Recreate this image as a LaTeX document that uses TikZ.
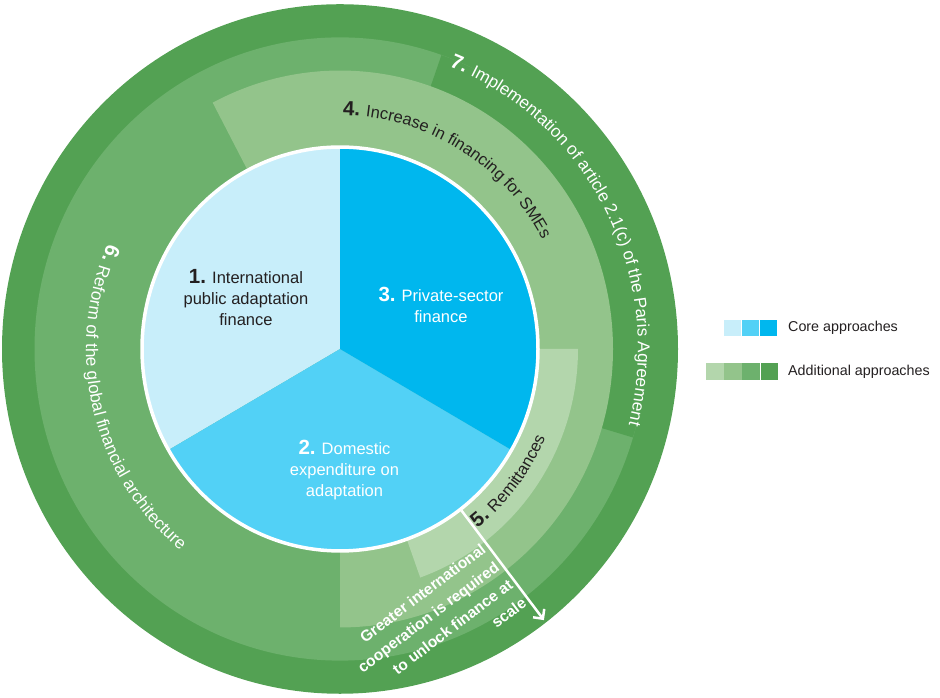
\documentclass[tikz,border=0pt]{standalone}
\usepackage{fontspec}
\setmainfont{Liberation Sans}
\usetikzlibrary{decorations.text,arrows.meta}
\definecolor{gdark}{HTML}{53A153}
\definecolor{gmid}{HTML}{6DB16D}
\definecolor{glight}{HTML}{93C48B}
\definecolor{gpale}{HTML}{B3D6AC}
\definecolor{bpale}{HTML}{C8EEFA}
\definecolor{bmid}{HTML}{52D1F6}
\definecolor{bdark}{HTML}{00B7EE}
\definecolor{ink}{HTML}{231F20}
\newcommand\numf{\fontsize{20.5}{20.5}\selectfont\bfseries}
\newcommand\arcf{\fontsize{16.5}{16.5}\selectfont\mdseries}
\newcommand\arcg{\fontsize{17.1}{17.1}\selectfont\mdseries}
\begin{document}
\begin{tikzpicture}[x=1pt,y=1pt,
  pietext/.style={align=center, inner sep=0pt, font=\fontsize{16.5}{21}\selectfont},
  legsq/.style={minimum width=17.7pt, minimum height=16.7pt, inner sep=0pt, anchor=south west, draw=none},
  legtext/.style={anchor=west, inner sep=0pt, text=ink, font=\fontsize{14.3}{16}\selectfont},
  arctext/.style={decorate, decoration={text along path, text align=left}},
]
\useasboundingbox (0,0) rectangle (940,698);
\begin{scope}[shift={(340,349)}, yscale=1.02]
  % rings
  \fill[gdark] (0,0) circle[radius=338];
  \fill[gmid] (0,0) circle[radius=305.5];
  \fill[gdark] (0,0) -- (-16.5:305.5) arc[start angle=-16.5, end angle=70.6, radius=305.5] -- cycle;
  \fill[glight] (0,0) -- (-90:273) arc[start angle=-90, end angle=117.8, radius=273] -- cycle;
  \fill[gpale] (0,0) -- (-70.3:238) arc[start angle=-70.3, end angle=0, radius=238] -- cycle;
  % pie
  \fill[bpale] (0,0) -- (90:197) arc[start angle=90, end angle=210, radius=197] -- cycle;
  \fill[bmid] (0,0) -- (210:197) arc[start angle=210, end angle=330, radius=197] -- cycle;
  \fill[bdark] (0,0) -- (-30:197) arc[start angle=-30, end angle=90, radius=197] -- cycle;
  \draw[white, line width=3.5pt] (0,0) circle[radius=198];
  % arrow
  \coordinate (arrS) at (-52.5:199.5);
  \coordinate (arrE) at (-52.5:335);
  \draw[white, line width=2.5pt, -{Straight Barb[length=7pt,width=14pt]}] (arrS) -- (arrE);
  % arc texts
  \path[arctext, decoration={text color=ink, text={|\numf|4. |\arcf|Increase in financing for SMEs}}]
    (89.3:229) arc[start angle=89.3, end angle=-20, radius=229];
  \path[arctext, decoration={text color=white, text={|\numf|7. |\arcg|Implementation of article 2.1(c) of the Paris Agreement}}]
    (68.5:298) arc[start angle=68.5, end angle=-40, radius=298];
  \path[arctext, decoration={text color=white, text={|\numf|6. |\arcg|Reform of the global financial architecture}}]
    (156:254) arc[start angle=156, end angle=250, radius=254];
  \path[arctext, decoration={text color=ink, text={|\numf|5. |\arcf|Remittances}}]
    (-52:223) arc[start angle=-52, end angle=5, radius=223];
\end{scope}
% pie labels
\node[pietext, text=ink] (n1) at (246,400) {{\numf 1.} International\\public adaptation\\finance};
\node[pietext, text=white] (n3) at (441,393.4) {{\numf 3.} Private-sector\\finance};
\node[pietext, text=white] (n2) at (344.5,228) {{\numf 2.} Domestic\\expenditure on\\adaptation};
% cooperation note
\node[rotate=37, anchor=east, align=right, inner sep=0pt, text=white,
      font=\bfseries\fontsize{15.5}{22.5}\selectfont] (coop) at (504,124)
  {Greater international\\cooperation is required\\to unlock finance at\\scale};
% legend
\node[legsq, fill=bpale] (c1) at (723.3,361.3) {};
\node[legsq, fill=bmid] (c2) at (c1.south east) {};
\node[legsq, fill=bdark] (c3) at (c2.south east) {};
\node[legtext] (lcore) at (788,370) {Core approaches};
\node[legsq, fill=gpale] (a1) at (706,318) {};
\node[legsq, fill=glight] (a2) at (a1.south east) {};
\node[legsq, fill=gmid] (a3) at (a2.south east) {};
\node[legsq, fill=gdark] (a4) at (a3.south east) {};
\node[legtext] (ladd) at (788,326.3) {Additional approaches};
\end{tikzpicture}
\end{document}
